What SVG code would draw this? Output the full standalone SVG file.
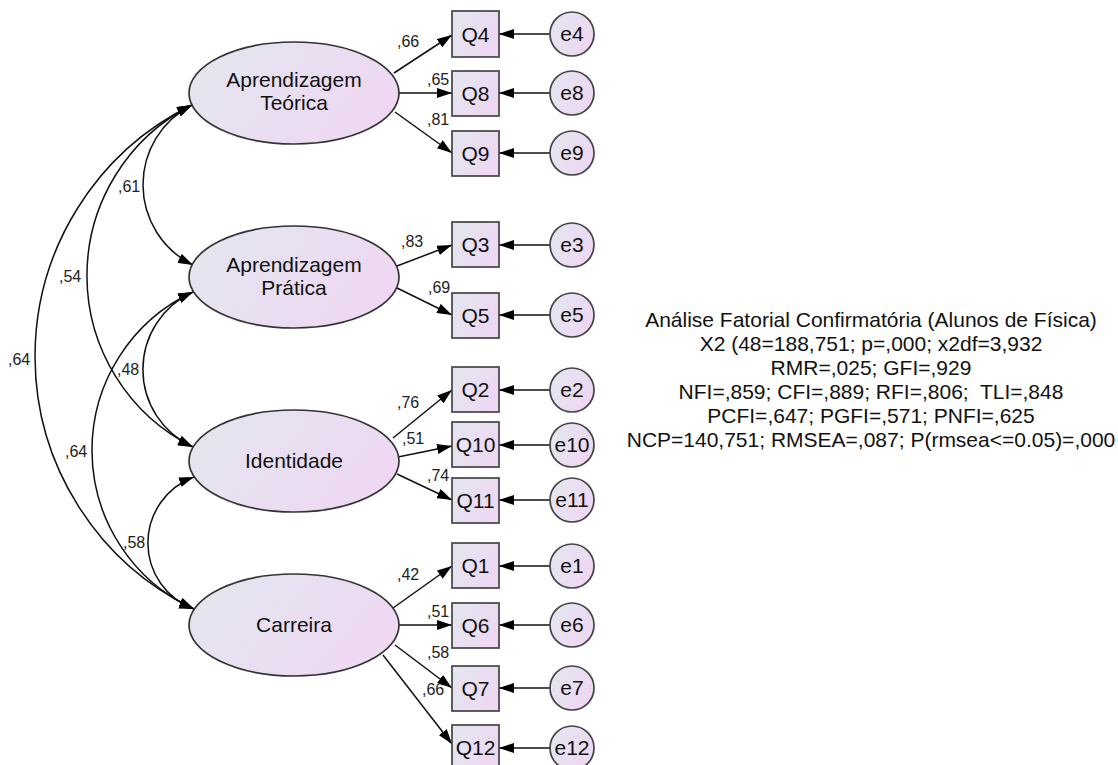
<svg xmlns="http://www.w3.org/2000/svg" width="1118" height="765" viewBox="0 0 1118 765">
<defs>
<linearGradient id="g" x1="0" y1="0" x2="1" y2="0.4">
<stop offset="0" stop-color="#e3e7ef"/>
<stop offset="1" stop-color="#eed8f2"/>
</linearGradient>
<marker id="arr" viewBox="0 0 15 10" refX="15" refY="5" markerWidth="15" markerHeight="10" markerUnits="userSpaceOnUse" orient="auto-start-reverse">
<path d="M0,0 L15,5 L0,10 z" fill="#000"/>
</marker>
<style>
.lat{fill:url(#g);stroke:#333;stroke-width:1.7}
.obs{fill:url(#g);stroke:#444;stroke-width:1.7}
.err{fill:url(#g);stroke:#444;stroke-width:1.7}
.t{font-family:"Liberation Sans",Arial,sans-serif;font-size:21px;fill:#111;text-anchor:middle}
.w{font-family:"Liberation Sans",Arial,sans-serif;font-size:16px;fill:#222}
.fit{font-family:"Liberation Sans",Arial,sans-serif;font-size:21px;fill:#111;text-anchor:middle}
.c{fill:none;stroke:#111;stroke-width:1.5}
.one{marker-end:url(#arr)}
.two{marker-start:url(#arr);marker-end:url(#arr)}
</style>
</defs>
<rect width="1118" height="765" fill="#fff"/>
<g id="connectors">
<path class="c two" d="M192,105 A89.4,89.4 0 0 0 193,265"/>
<path class="c two" d="M192,105 A191.3,191.3 0 0 0 193,447"/>
<path class="c two" d="M192,105 A280,280 0 0 0 194,609"/>
<path class="c two" d="M193,292 A85,85 0 0 0 193,447"/>
<path class="c two" d="M193,292 A174.5,174.5 0 0 0 194,609"/>
<path class="c two" d="M194,477 A70.3,70.3 0 0 0 194,609"/>
<line class="c one" x1="394" y1="73" x2="452" y2="35"/>
<line class="c one" x1="399" y1="93" x2="452" y2="93"/>
<line class="c one" x1="395" y1="112" x2="452" y2="153"/>
<line class="c one" x1="397" y1="266" x2="452" y2="245"/>
<line class="c one" x1="397" y1="288" x2="452" y2="315"/>
<line class="c one" x1="393" y1="438" x2="452" y2="390"/>
<line class="c one" x1="398" y1="457" x2="452" y2="446"/>
<line class="c one" x1="397" y1="474" x2="452" y2="500"/>
<line class="c one" x1="393" y1="608" x2="452" y2="566"/>
<line class="c one" x1="399" y1="625" x2="452" y2="625"/>
<line class="c one" x1="395" y1="645" x2="452" y2="688"/>
<line class="c one" x1="383" y1="655" x2="452" y2="744"/>
<line class="c one" x1="550" y1="34" x2="499" y2="34"/>
<line class="c one" x1="550" y1="93" x2="499" y2="93"/>
<line class="c one" x1="550" y1="153" x2="499" y2="153"/>
<line class="c one" x1="550" y1="245" x2="499" y2="245"/>
<line class="c one" x1="550" y1="315" x2="499" y2="315"/>
<line class="c one" x1="550" y1="390" x2="499" y2="390"/>
<line class="c one" x1="550" y1="445" x2="499" y2="445"/>
<line class="c one" x1="550" y1="500" x2="499" y2="500"/>
<line class="c one" x1="550" y1="566" x2="499" y2="566"/>
<line class="c one" x1="550" y1="625" x2="499" y2="625"/>
<line class="c one" x1="550" y1="688" x2="499" y2="688"/>
<line class="c one" x1="550" y1="748" x2="499" y2="748"/>
<text class="w" x="118" y="192">,61</text>
<text class="w" x="59" y="282">,54</text>
<text class="w" x="8" y="365">,64</text>
<text class="w" x="117" y="375">,48</text>
<text class="w" x="65" y="457">,64</text>
<text class="w" x="123" y="548">,58</text>
<text class="w" x="397" y="47">,66</text>
<text class="w" x="427" y="85">,65</text>
<text class="w" x="427" y="125">,81</text>
<text class="w" x="401" y="247">,83</text>
<text class="w" x="428" y="293">,69</text>
<text class="w" x="397" y="408">,76</text>
<text class="w" x="402" y="444">,51</text>
<text class="w" x="427" y="481">,74</text>
<text class="w" x="397" y="580">,42</text>
<text class="w" x="427" y="617">,51</text>
<text class="w" x="427" y="658">,58</text>
<text class="w" x="422" y="695">,66</text>
</g>
<g id="AT"><ellipse class="lat" cx="294" cy="93" rx="105" ry="51"/><text class="t" x="294" y="87">Aprendizagem</text><text class="t" x="294" y="110">Teórica</text></g>
<g id="AP"><ellipse class="lat" cx="294" cy="277" rx="105" ry="51"/><text class="t" x="294" y="272">Aprendizagem</text><text class="t" x="294" y="295">Prática</text></g>
<g id="ID"><ellipse class="lat" cx="294" cy="461" rx="105" ry="51"/><text class="t" x="294" y="468">Identidade</text></g>
<g id="CA"><ellipse class="lat" cx="294" cy="625" rx="105" ry="51"/><text class="t" x="294" y="632">Carreira</text></g>
<g id="Q4"><rect class="obs" x="452" y="11" width="47" height="46"/><text class="t" x="475.5" y="42">Q4</text></g>
<g id="Q8"><rect class="obs" x="452" y="71" width="47" height="45"/><text class="t" x="475.5" y="101">Q8</text></g>
<g id="Q9"><rect class="obs" x="452" y="131" width="47" height="45"/><text class="t" x="475.5" y="161">Q9</text></g>
<g id="Q3"><rect class="obs" x="452" y="222" width="47" height="45"/><text class="t" x="475.5" y="252">Q3</text></g>
<g id="Q5"><rect class="obs" x="452" y="293" width="47" height="45"/><text class="t" x="475.5" y="323">Q5</text></g>
<g id="Q2"><rect class="obs" x="452" y="367" width="47" height="45"/><text class="t" x="475.5" y="397">Q2</text></g>
<g id="Q10"><rect class="obs" x="452" y="422" width="47" height="45"/><text class="t" x="475.5" y="452">Q10</text></g>
<g id="Q11"><rect class="obs" x="452" y="478" width="47" height="45"/><text class="t" x="475.5" y="508">Q11</text></g>
<g id="Q1"><rect class="obs" x="452" y="543" width="47" height="45"/><text class="t" x="475.5" y="573">Q1</text></g>
<g id="Q6"><rect class="obs" x="452" y="603" width="47" height="45"/><text class="t" x="475.5" y="633">Q6</text></g>
<g id="Q7"><rect class="obs" x="452" y="666" width="47" height="45"/><text class="t" x="475.5" y="696">Q7</text></g>
<g id="Q12"><rect class="obs" x="452" y="725" width="47" height="45"/><text class="t" x="475.5" y="755">Q12</text></g>
<g id="e4"><circle class="err" cx="572" cy="34" r="22"/><text class="t" x="572" y="41">e4</text></g>
<g id="e8"><circle class="err" cx="572" cy="93" r="22"/><text class="t" x="572" y="100">e8</text></g>
<g id="e9"><circle class="err" cx="572" cy="153" r="22"/><text class="t" x="572" y="160">e9</text></g>
<g id="e3"><circle class="err" cx="572" cy="245" r="22"/><text class="t" x="572" y="252">e3</text></g>
<g id="e5"><circle class="err" cx="572" cy="315" r="22"/><text class="t" x="572" y="322">e5</text></g>
<g id="e2"><circle class="err" cx="572" cy="390" r="22"/><text class="t" x="572" y="397">e2</text></g>
<g id="e10"><circle class="err" cx="572" cy="445" r="22"/><text class="t" x="572" y="452">e10</text></g>
<g id="e11"><circle class="err" cx="572" cy="500" r="22"/><text class="t" x="572" y="507">e11</text></g>
<g id="e1"><circle class="err" cx="572" cy="566" r="22"/><text class="t" x="572" y="573">e1</text></g>
<g id="e6"><circle class="err" cx="572" cy="625" r="22"/><text class="t" x="572" y="632">e6</text></g>
<g id="e7"><circle class="err" cx="572" cy="688" r="22"/><text class="t" x="572" y="695">e7</text></g>
<g id="e12"><circle class="err" cx="572" cy="748" r="22"/><text class="t" x="572" y="755">e12</text></g>
<g id="fit">
<text class="fit" x="871" y="327">Análise Fatorial Confirmatória (Alunos de Física)</text>
<text class="fit" x="871" y="351">X2 (48=188,751; p=,000; x2df=3,932</text>
<text class="fit" x="871" y="375">RMR=,025; GFI=,929</text>
<text class="fit" x="871" y="399" xml:space="preserve">NFI=,859; CFI=,889; RFI=,806;  TLI=,848</text>
<text class="fit" x="871" y="423">PCFI=,647; PGFI=,571; PNFI=,625</text>
<text class="fit" x="871" y="447">NCP=140,751; RMSEA=,087; P(rmsea&lt;=0.05)=,000</text>
</g>
</svg>
